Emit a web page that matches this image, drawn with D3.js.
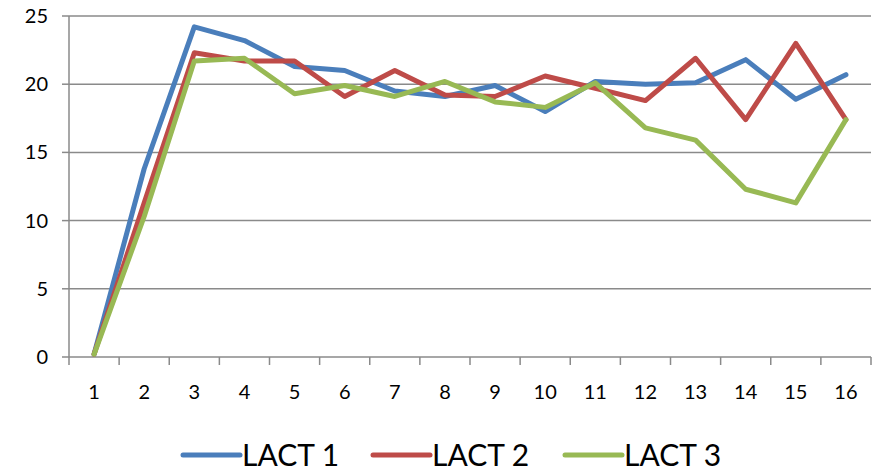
<!DOCTYPE html>
<html><head><meta charset="utf-8">
<script src="https://cdn.jsdelivr.net/npm/d3@7"></script>
<style>body{margin:0;background:#fff}svg{display:block}</style>
</head><body><svg id="c" width="881" height="474"></svg>
<script>
const categories = ["1","2","3","4","5","6","7","8","9","10","11","12","13","14","15","16"];
const lact1 = [0.2,13.8,24.2,23.2,21.3,21.0,19.5,19.1,19.9,18.0,20.2,20.0,20.1,21.8,18.9,20.7];
const lact2 = [0.2,11.3,22.3,21.7,21.7,19.1,21.0,19.2,19.1,20.6,19.7,18.8,21.9,17.4,23.0,17.4];
const lact3 = [0.2,10.3,21.7,21.9,19.3,19.9,19.1,20.2,18.7,18.3,20.1,16.8,15.9,12.3,11.3,17.4];
const seriesNames = ["LACT 1","LACT 2","LACT 3"];
const colors = ["#4A7EBB","#BE4B48","#98B954"];
const yTicks = [0,5,10,15,20,25];

const svg = d3.select("#c");
const m = {l:69, r:871, t:16, b:357};
const x = d3.scaleBand().domain(categories).range([m.l, m.r]);
const y = d3.scaleLinear().domain([0,25]).range([m.b, m.t]);
const font = "Lato, 'Open Sans', sans-serif";

// gridlines
svg.append("g").selectAll("line").data(yTicks).join("line")
  .attr("x1", m.l).attr("x2", m.r)
  .attr("y1", d=>y(d)).attr("y2", d=>y(d))
  .attr("stroke", "#8a8a8a").attr("stroke-width", 1.5);

// y axis line
svg.append("line").attr("x1", m.l).attr("x2", m.l).attr("y1", m.t).attr("y2", m.b)
  .attr("stroke", "#8a8a8a").attr("stroke-width", 1.5);
// y tick marks
svg.append("g").selectAll("line").data(yTicks).join("line")
  .attr("x1", m.l-7).attr("x2", m.l).attr("y1", d=>y(d)).attr("y2", d=>y(d))
  .attr("stroke", "#8a8a8a").attr("stroke-width", 1.5);
// y labels
svg.append("g").selectAll("text").data(yTicks).join("text")
  .attr("x", 48).attr("y", d=>y(d)).attr("dy", "0.35em")
  .attr("text-anchor", "end").attr("font-family", font).attr("font-size", 20)
  .attr("fill", "#000").text(d=>d);

// x ticks at band boundaries
const bounds = categories.map(c=>x(c)).concat([x(categories[categories.length-1]) + x.bandwidth()]);
svg.append("g").selectAll("line").data(bounds).join("line")
  .attr("x1", d=>d).attr("x2", d=>d).attr("y1", m.b).attr("y2", m.b+8)
  .attr("stroke", "#8a8a8a").attr("stroke-width", 1.5);
svg.append("g").selectAll("text").data(categories).join("text")
  .attr("x", d=>x(d)+x.bandwidth()/2).attr("y", 392).attr("dy", "0.35em")
  .attr("text-anchor", "middle").attr("font-family", font).attr("font-size", 20)
  .attr("fill", "#000").text(d=>d);

// lines
const data = [lact1, lact2, lact3];
const line = d3.line().x((d,i)=>x(categories[i])+x.bandwidth()/2).y(d=>y(d));
svg.append("g").selectAll("path").data(data).join("path")
  .attr("d", line).attr("fill", "none")
  .attr("stroke", (d,i)=>colors[i]).attr("stroke-width", 5)
  .attr("stroke-linejoin", "round").attr("stroke-linecap", "round");

// legend
const legX = [183, 373, 565];
const lg = svg.append("g").selectAll("g").data(seriesNames).join("g")
  .attr("transform", (d,i)=>`translate(${legX[i]},455)`);
lg.append("line").attr("x1", 0).attr("x2", 57).attr("y1", 0).attr("y2", 0)
  .attr("stroke", (d,i)=>colors[i]).attr("stroke-width", 5).attr("stroke-linecap", "round");
lg.append("text").attr("x", 59).attr("y", 0).attr("dy", "0.36em")
  .attr("font-family", font).attr("font-size", 30).attr("fill", "#000").text(d=>d);
</script></body></html>
